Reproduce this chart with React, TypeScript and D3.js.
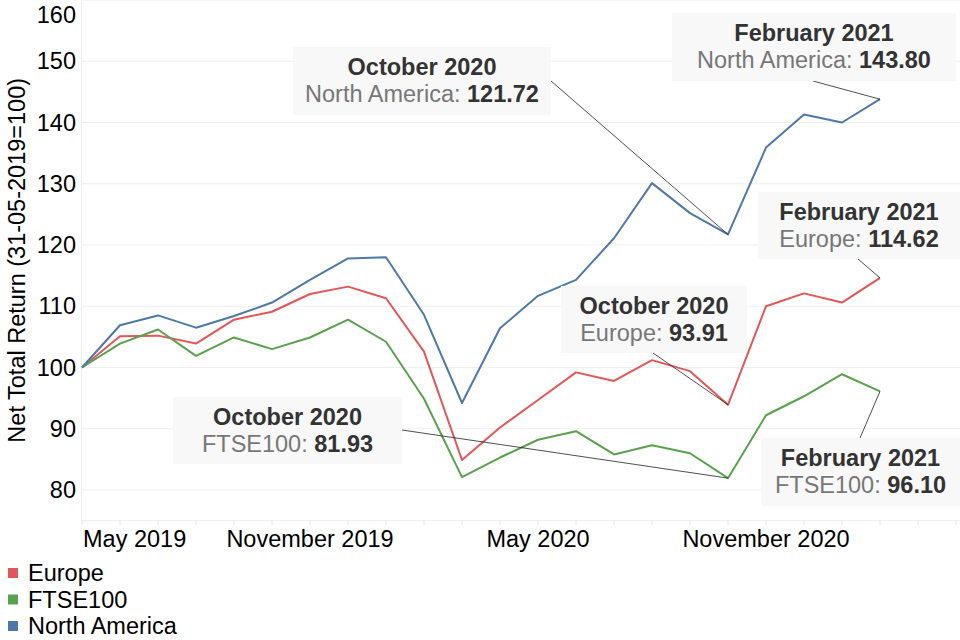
import React from "react";
import * as d3 from "d3";

const months = [
  "May 2019", "June 2019", "July 2019", "August 2019", "September 2019", "October 2019",
  "November 2019", "December 2019", "January 2020", "February 2020", "March 2020", "April 2020",
  "May 2020", "June 2020", "July 2020", "August 2020", "September 2020", "October 2020",
  "November 2020", "December 2020", "January 2021", "February 2021",
];
const europe = [100, 105.1, 105.2, 103.9, 107.8, 109.1, 112.0, 113.2, 111.3, 102.6, 84.9, 90.2, 94.7, 99.2, 97.8, 101.2, 99.4, 93.91, 110.0, 112.1, 110.6, 114.62];
const ftse100 = [100, 103.9, 106.2, 101.9, 104.9, 103.0, 104.9, 107.8, 104.2, 94.9, 82.1, 85.3, 88.2, 89.6, 85.8, 87.3, 86.0, 81.93, 92.2, 95.3, 98.9, 96.10];
const northAmerica = [100, 106.9, 108.5, 106.5, 108.4, 110.6, 114.3, 117.8, 118.0, 108.6, 94.2, 106.4, 111.7, 114.3, 121.1, 130.1, 125.2, 121.72, 135.9, 141.3, 140.0, 143.80];
const yTicks = [80, 90, 100, 110, 120, 130, 140, 150, 160];
const xLabelMonths = ["May 2019", "November 2019", "May 2020", "November 2020"];

const seriesNames = ["Europe", "FTSE100", "North America"];
const seriesValues = [europe, ftse100, northAmerica];
const colors = ["#e15759", "#59a14f", "#4e79a7"];

// annotations: series index, month label, box [x0,y0,x1,y1], connector start
const annotations = [
  { s: 2, m: "October 2020", box: [293, 47, 551, 115], from: [551, 81] },
  { s: 2, m: "February 2021", box: [672, 13, 956, 81], from: [813, 81] },
  { s: 0, m: "February 2021", box: [758, 192, 960, 259], from: [858, 259] },
  { s: 0, m: "October 2020", box: [561, 286, 747, 353], from: [653, 353] },
  { s: 1, m: "October 2020", box: [173, 397, 402, 464], from: [402, 430] },
  { s: 1, m: "February 2021", box: [761, 438, 960, 506], from: [860, 438] },
];

const FONT = "'Liberation Sans', Arial, sans-serif";
const FS = 23.5;

export default function App() {
  const W = 960, H = 640;
  const left = 82, bottom = 520.6;
  const x = d3.scaleLinear().domain([0, months.length - 1]).range([left, 880]);
  const y = d3.scaleLinear().domain([75, 160]).range([bottom, 0]);
  const line = d3.line<number>().x((_, i) => x(i)).y((d) => y(d));
  const monthTicks = d3.range(0, 24);

  return (
    <svg width={W} height={H} style={{ position: "absolute", left: 0, top: 0, background: "#fff" }} fontFamily={FONT}>
      {yTicks.map((t) => (
        <line key={t} x1={left} x2={W} y1={y(t)} y2={y(t)} stroke="#efefef" strokeWidth={1} />
      ))}
      <line x1={left - 0.5} x2={left - 0.5} y1={0} y2={bottom} stroke="#eeeeee" />
      <line x1={left} x2={W} y1={bottom} y2={bottom} stroke="#eeeeee" />
      {monthTicks.map((i) => (
        <line key={i} x1={x(i)} x2={x(i)} y1={bottom} y2={bottom + 5} stroke="#e6e6e6" />
      ))}
      {yTicks.map((t) => (
        <text key={t} x={76} y={Math.max(y(t), 15)} dy="0.35em" textAnchor="end" fontSize={FS} fill="#000">
          {t}
        </text>
      ))}
      {xLabelMonths.map((m) => {
        const i = months.indexOf(m);
        return (
          <text key={m} x={i === 0 ? x(i) + 1 : x(i)} y={547} textAnchor={i === 0 ? "start" : "middle"} fontSize={FS} fill="#000">
            {m}
          </text>
        );
      })}
      <text transform={`translate(25,${bottom / 2}) rotate(-90)`} textAnchor="middle" fontSize={FS} fill="#000">
        Net Total Return (31-05-2019=100)
      </text>
      {seriesValues.map((vals, k) => (
        <path key={k} d={line(vals) || ""} fill="none" stroke={colors[k]} strokeWidth={2} strokeLinejoin="round" />
      ))}
      {annotations.map((a, k) => {
        const i = months.indexOf(a.m);
        const v = seriesValues[a.s][i];
        const [x0, y0, x1, y1] = a.box;
        const cx = (x0 + x1) / 2;
        return (
          <g key={k}>
            <line x1={a.from[0]} y1={a.from[1]} x2={x(i)} y2={y(v)} stroke="#222" strokeWidth={0.8} />
            <rect x={x0} y={y0} width={x1 - x0} height={y1 - y0} fill="#f8f8f8" />
            <text x={cx} y={y0 + 28} textAnchor="middle" fontSize={FS} fontWeight="bold" fill="#333">
              {a.m}
            </text>
            <text x={cx} y={y0 + 55} textAnchor="middle" fontSize={FS}>
              <tspan fill="#777">{seriesNames[a.s]}: </tspan>
              <tspan fill="#333" fontWeight="bold">{v.toFixed(2)}</tspan>
            </text>
          </g>
        );
      })}
      {seriesNames.map((n, k) => (
        <g key={n} transform={`translate(8,${568 + k * 26.5})`}>
          <rect x={0} y={0} width={10} height={10} fill={colors[k]} />
          <text x={20} y={13} fontSize={FS} fill="#000">{n}</text>
        </g>
      ))}
    </svg>
  );
}
